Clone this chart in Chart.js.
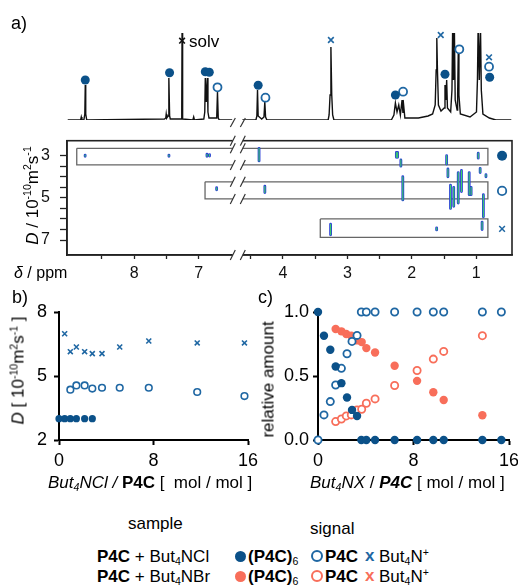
<!DOCTYPE html>
<html>
<head>
<meta charset="utf-8">
<script src="https://cdn.jsdelivr.net/npm/chart.js@4.4.1/dist/chart.umd.min.js"></script>
<style>
  body { margin: 0; width: 518px; height: 585px; position: relative; overflow: hidden; background: #fff;
         font-family: "Liberation Sans", Arial, sans-serif; color: #000; }
  canvas { position: absolute; }
  .t { position: absolute; white-space: nowrap; line-height: 1; z-index: 5; }
  .rot { transform: rotate(-90deg); transform-origin: 50% 50%; text-align: center; }
  sup, sub { font-size: 62%; line-height: 0; }
  sup { vertical-align: 0.6em; }
  sub { vertical-align: -0.25em; }
  .fc { position: absolute; width: 11px; height: 11px; border-radius: 50%; z-index: 5; }
  .oc { position: absolute; width: 8px; height: 8px; border-radius: 50%; border: 2px solid; z-index: 5; background: #fff; }
</style>
</head>
<body>
<canvas id="spec" width="518" height="110" style="left:0;top:20px"></canvas>
<canvas id="dosy" width="518" height="160" style="left:0;top:130px"></canvas>
<canvas id="diff" width="275" height="190" style="left:0;top:290px"></canvas>
<canvas id="rel" width="260" height="190" style="left:258px;top:290px"></canvas>

<div class="t" style="left:11px;top:14px;font-size:18px">a)</div>
<div class="t" style="left:189px;top:33px;font-size:17px">solv</div>
<div class="t rot" style="left:-38px;top:187px;width:140px;font-size:17px"><i>D</i> / 10<sup>-10</sup>m<sup>2</sup>s<sup>-1</sup></div>
<div class="t" style="left:14px;top:265px;font-size:16px"><i>δ</i> / ppm</div>

<div class="t" style="left:12px;top:288px;font-size:18px">b)</div>
<div class="t" style="left:258px;top:288px;font-size:18px">c)</div>
<div class="t rot" style="left:-52px;top:362px;width:140px;font-size:17px"><i>D</i> [ 10<sup>-10</sup>m<sup>2</sup>s<sup>-1</sup> ]</div>
<div class="t rot" style="left:203px;top:371px;width:130px;font-size:17px">relative amount</div>
<div class="t" style="left:48px;top:474px;font-size:17px"><i>But<sub>4</sub>NCl / </i><b>P4C</b> [&nbsp; mol / mol ]</div>
<div class="t" style="left:310px;top:474px;font-size:17px"><i>But<sub>4</sub>NX</i> / <b><i>P4C</i></b> [ mol / mol ]</div>

<div class="t" style="left:128px;top:515px;font-size:17px">sample</div>
<div class="t" style="left:310px;top:520px;font-size:17px">signal</div>

<div class="t" style="left:97px;top:548px;font-size:17px"><b>P4C</b> + But<sub>4</sub>NCl</div>
<div class="fc" style="left:235px;top:551px;background:#0b5189"></div>
<div class="t" style="left:248px;top:548px;font-size:17px"><b>(P4C)</b><sub>6</sub></div>
<div class="oc" style="left:311px;top:550px;border-color:#1f67a3"></div>
<div class="t" style="left:325px;top:548px;font-size:17px"><b>P4C</b></div>
<div class="t" style="left:365px;top:547px;font-size:17px;color:#1f67a3"><b>x</b></div>
<div class="t" style="left:379px;top:548px;font-size:17px">But<sub>4</sub>N<sup>+</sup></div>

<div class="t" style="left:97px;top:568px;font-size:17px"><b>P4C</b> + But<sub>4</sub>NBr</div>
<div class="fc" style="left:235px;top:571px;background:#f86e5a"></div>
<div class="t" style="left:248px;top:568px;font-size:17px"><b>(P4C)</b><sub>6</sub></div>
<div class="oc" style="left:311px;top:570px;border-color:#f86e5a"></div>
<div class="t" style="left:325px;top:568px;font-size:17px"><b>P4C</b></div>
<div class="t" style="left:365px;top:567px;font-size:17px;color:#f86e5a"><b>x</b></div>
<div class="t" style="left:379px;top:568px;font-size:17px">But<sub>4</sub>N<sup>+</sup></div>

<script>
const FONT = '"Liberation Sans", Arial, sans-serif';
const BLUE = '#0b5189';
const BLUE_LIGHT = '#1f67a3';
const RED = '#f86e5a';

// ppm axis with a break: the 6.4-9 ppm part is shifted to sit next to the 0.4-4.7 part
const LEFT_SHIFT = 1.6923;
const U_MIN = 0.446, U_MAX = 7.349, U_BREAK = 4.70;
function toU(ppm) { return ppm > 5 ? ppm - LEFT_SHIFT : ppm; }

// a) 1H spectrum (null = axis break)
const specPpm = [9.03, 8.83, 8.82, 8.81, 8.78, 8.765, 8.758, 8.751, 8.735, 7.53, 7.51, 7.503, 7.495, 7.475, 7.462, 7.45, 7.44,
  7.27, 7.262, 7.257, 7.252, 7.245, 7.09, 7.077, 7.065, 6.92, 6.905, 6.897, 6.882, 6.866, 6.856, 6.84, 6.72, 6.708, 6.696, 6.68, 6.48,
  null,
  4.63, 4.42, 4.405, 4.395, 4.385, 4.33, 4.295, 4.282, 4.27, 4.25, 3.30, 3.285, 3.27, 3.257, 3.244, 3.23, 3.21,
  2.32, 2.28, 2.257, 2.232, 2.205, 2.18, 2.154, 2.14, 2.128, 2.11, 2.05, 1.90, 1.75, 1.68, 1.64, 1.625, 1.615, 1.605, 1.59,
  1.55, 1.50, 1.488, 1.475, 1.462, 1.45, 1.40, 1.38, 1.369, 1.356, 1.343, 1.33, 1.30, 1.292, 1.282, 1.272, 1.25,
  1.10, 1.00, 0.985, 0.974, 0.956, 0.938, 0.925, 0.90, 0.80, 0.70, 0.46];
const specInt = [0, 0, 3, 0, 0, 6, 35, 6, 0, 1, 2, 6, 2, 4, 42, 4, 1,
  1, 10, 95, 10, 1, 0, 3, 0, 1, 8, 42, 18, 42, 8, 2, 2, 28, 2, 0, 0,
  null,
  0, 0, 4, 30, 4, 1, 3, 18, 3, 0, 0, 5, 25, 73, 25, 5, 0,
  0, 5, 17, 8, 15, 5, 20, 7, 14, 2, 2, 2, 4, 6, 15, 50, 82, 50, 15,
  9, 12, 35, 20, 40, 12, 8, 30, 95, 40, 95, 20, 10, 25, 68, 25, 6,
  3, 8, 40, 95, 40, 95, 30, 6, 2, 0, 0];

// signal assignment markers above the spectrum
const fillPpm = [8.758, 7.451, 6.897, 6.835, 4.385, 2.257, 1.488, 0.795];
const fillH   = [40, 47.3, 48.3, 47.7, 34.7, 25, 45.7, 42.7];
const openPpm = [6.708, 4.272, 2.138, 1.266, 0.805];
const openH   = [32.7, 22.3, 28.3, 70.7, 53.3];
const crossPpm = [3.257, 1.554, 0.805];
const crossH   = [80, 85, 62.7];
const solvPpm = [7.257];
const solvH   = [79.3];

// DOSY cross peaks: ppm and D range (10^-10 m2/s)
const peakPpm  = [8.76, 7.46, 6.87, 6.83, 6.72, 4.37, 4.28, 3.26, 2.24, 2.22, 2.17, 2.14, 1.615, 1.46, 1.44, 1.40, 1.35, 1.28, 1.23, 1.11, 1.08, 0.97, 0.94, 0.85, 0.89, 0.91];
const peakDtop = [2.97, 2.97, 2.93, 2.95, 4.52, 2.65, 4.45, 6.25, 2.85, 2.85, 3.20, 4.00, 6.42, 3.00, 3.63, 4.40, 4.50, 3.80, 3.70, 3.80, 4.50, 2.88, 3.60, 3.90, 4.85, 6.15];
const peakDbot = [3.03, 3.03, 3.03, 3.02, 4.62, 3.25, 4.75, 6.75, 3.08, 3.08, 3.50, 5.10, 6.52, 3.40, 4.00, 5.50, 5.40, 5.25, 4.70, 4.85, 4.85, 3.12, 3.80, 4.00, 5.90, 6.50];
// grouping boxes
const boxLeftPpm  = [8.89, 6.90, 3.42];
const boxRightPpm = [0.82, 0.82, 0.82];
const boxTopD = [2.65, 4.24, 6.00];
const boxBotD = [3.44, 5.05, 6.87];
// species markers at the right
const speciesPpm = 0.6;
const speciesD = [3.0, 4.67, 6.47];

const dosyTickPpm = [8.5, 8, 7.5, 7, 4.5, 4, 3.5, 3, 2.5, 2, 1.5, 1];
const dosyTickLabel = ['', '8', '', '7', '', '4', '', '3', '', '2', '', '1'];
const dosyTickD = [3, 3.5, 4, 4.5, 5, 5.5, 6, 6.5, 7];
const dosyTickDLabel = ['3', '', '', '', '5', '', '', '', '7'];

// b) D vs But4NCl / P4C
const bFillX = [0, 0.48, 0.96, 1.47, 2.17, 2.82];
const bFillD = [3.0, 3.0, 3.0, 3.0, 3.0, 3.0];
const bOpenX = [0.96, 1.47, 2.17, 2.82, 3.64, 5.14, 7.6, 11.7, 15.7];
const bOpenD = [4.36, 4.56, 4.56, 4.41, 4.45, 4.45, 4.45, 4.25, 4.06];
const bCrossX = [0.48, 0.96, 1.47, 2.17, 2.82, 3.64, 5.14, 7.6, 11.7, 15.7];
const bCrossD = [6.98, 6.14, 6.36, 6.14, 6.05, 6.05, 6.36, 6.64, 6.55, 6.55];

// c) relative amount vs But4NX / P4C
const cClX = [0, 0.5, 1.03, 1.48, 1.96, 2.43, 2.85, 3.27, 3.63, 4.05, 4.78, 6.42, 8.30, 9.66, 10.53, 13.77, 15.36];
const cClHex  = [1.0, 0.815, 0.705, 0.574, 0.444, 0.332, 0.235, 0.188, 0, 0, 0, 0, 0, 0, 0, 0, 0];
const cClFree = [0, 0.196, 0.30, 0.43, 0.56, 0.674, 0.77, 0.817, 1, 1, 1, 1, 1, 1, 1, 1, 1];
const cBrX = [1.48, 1.96, 2.37, 2.79, 3.27, 3.66, 4.05, 4.78, 6.42, 8.30, 9.66, 10.53, 13.77];
const cBrHex  = [0.867, 0.849, 0.828, 0.815, 0.778, 0.765, 0.718, 0.684, 0.580, 0.462, 0.373, 0.313, 0.193];
const cBrFree = [0.144, 0.164, 0.188, 0.196, 0.235, 0.240, 0.287, 0.321, 0.426, 0.543, 0.632, 0.692, 0.815];

const pts = (xs, ys, fx = v => v) => xs.map((x, i) => ({ x: fx(x), y: ys[i] }));

function breakMarks(ctx, xb, ys, h) {
  ctx.save();
  ys.forEach(y => {
    ctx.fillStyle = '#fff';
    ctx.fillRect(xb - 5, y - 2.5, 10, 5);
    ctx.strokeStyle = '#333';
    ctx.lineWidth = 1.2;
    [-5, 5].forEach(dx => {
      ctx.beginPath();
      ctx.moveTo(xb + dx - 2.5, y + h);
      ctx.lineTo(xb + dx + 2.5, y - h);
      ctx.stroke();
    });
  });
  ctx.restore();
}

// ---------- a) spectrum ----------
const specData = specPpm.map((p, i) => p === null ? { x: U_BREAK, y: null } : { x: toU(p), y: specInt[i] });

new Chart(document.getElementById('spec'), {
  type: 'scatter',
  data: {
    datasets: [
      { data: pts(fillPpm, fillH, toU), pointRadius: 4.5, pointBackgroundColor: BLUE, pointBorderWidth: 0, order: 0, clip: false },
      { data: pts(openPpm, openH, toU), pointRadius: 4, pointBackgroundColor: '#fff', pointBorderColor: BLUE_LIGHT, pointBorderWidth: 1.8, order: 0, clip: false },
      { data: pts(crossPpm, crossH, toU), pointStyle: 'crossRot', pointRadius: 4, pointBorderColor: BLUE_LIGHT, pointBorderWidth: 1.6, order: 0, clip: false },
      { data: pts(solvPpm, solvH, toU), pointStyle: 'crossRot', pointRadius: 4, pointBorderColor: '#111', pointBorderWidth: 1.6, order: 0, clip: false },
      { data: specData, showLine: true, spanGaps: false, pointRadius: 0, borderColor: '#111', borderWidth: 1.4, order: 10 }
    ]
  },
  options: {
    responsive: false, animation: false, events: [],
    layout: { padding: { left: 67, right: 2, top: 13, bottom: 10 } },
    plugins: { legend: { display: false }, tooltip: { enabled: false } },
    scales: {
      x: { display: false, min: U_MIN, max: U_MAX, reverse: true },
      y: { display: false, min: 0, max: 87 }
    }
  },
  plugins: [{
    id: 'specBreak',
    afterDraw(chart) {
      const xb = chart.scales.x.getPixelForValue(U_BREAK);
      const ctx = chart.ctx;
      ctx.save();
      ctx.strokeStyle = '#333';
      ctx.lineWidth = 1.2;
      [-5, 5].forEach(dx => {
        ctx.beginPath();
        ctx.moveTo(xb + dx - 2.5, chart.chartArea.bottom + 7);
        ctx.lineTo(xb + dx + 2.5, chart.chartArea.bottom - 2);
        ctx.stroke();
      });
      ctx.restore();
    }
  }]
});

// ---------- a) DOSY map ----------
const streaks = [];
peakPpm.forEach((p, i) => {
  streaks.push({ x: toU(p), y: peakDtop[i] }, { x: toU(p), y: peakDbot[i] }, { x: toU(p), y: null });
});
const boxes = [];
boxLeftPpm.forEach((l, i) => {
  const L = toU(l), R = toU(boxRightPpm[i]);
  boxes.push({ x: L, y: boxTopD[i] }, { x: R, y: boxTopD[i] }, { x: R, y: boxBotD[i] },
             { x: L, y: boxBotD[i] }, { x: L, y: boxTopD[i] }, { x: L, y: null });
});

new Chart(document.getElementById('dosy'), {
  type: 'scatter',
  data: {
    datasets: [
      { data: [{ x: speciesPpm, y: speciesD[0] }], pointRadius: 5, pointBackgroundColor: BLUE, pointBorderWidth: 0, order: 0 },
      { data: [{ x: speciesPpm, y: speciesD[1] }], pointRadius: 4.2, pointBackgroundColor: '#fff', pointBorderColor: BLUE_LIGHT, pointBorderWidth: 1.8, order: 0 },
      { data: [{ x: speciesPpm, y: speciesD[2] }], pointStyle: 'crossRot', pointRadius: 4, pointBorderColor: BLUE_LIGHT, pointBorderWidth: 1.5, order: 0 },
      { data: streaks, showLine: true, spanGaps: false, pointRadius: 0, borderColor: '#3ccf6a', borderWidth: 1.1, borderCapStyle: 'round', order: 1 },
      { data: streaks, showLine: true, spanGaps: false, pointRadius: 0, borderColor: '#2a3fd6', borderWidth: 2.8, borderCapStyle: 'round', order: 2 },
      { data: boxes, showLine: true, spanGaps: false, pointRadius: 0, borderColor: '#666', borderWidth: 1.3, order: 3 }
    ]
  },
  options: {
    responsive: false, animation: false, events: [],
    layout: { padding: { left: 0, right: 2, top: 10.7, bottom: 0 } },
    plugins: { legend: { display: false }, tooltip: { enabled: false } },
    scales: {
      x: {
        min: U_MIN, max: U_MAX, reverse: true,
        afterBuildTicks: s => { s.ticks = dosyTickPpm.map(p => ({ value: toU(p) })); },
        afterFit: s => { s.height = 35; s.paddingLeft = 0; s.paddingRight = 0; },
        ticks: { autoSkip: false, maxRotation: 0, padding: 5, color: '#111', font: { family: FONT, size: 16 },
                 callback: (v, i) => dosyTickLabel[i] },
        grid: { drawOnChartArea: false, tickLength: 4, tickColor: '#222', tickWidth: 1.3 },
        border: { color: '#222', width: 1.6 }
      },
      y: {
        min: 2.29, max: 7.71, reverse: true,
        afterBuildTicks: s => { s.ticks = dosyTickD.map(d => ({ value: d })); },
        afterFit: s => { s.width = 67; s.paddingTop = 0; s.paddingBottom = 0; },
        ticks: { autoSkip: false, padding: 10, color: '#111', font: { family: FONT, size: 16 },
                 callback: (v, i) => dosyTickDLabel[i] },
        grid: { drawOnChartArea: false, tickLength: 7, tickColor: '#222', tickWidth: 1.3 },
        border: { color: '#222', width: 1.6 }
      }
    }
  },
  plugins: [{
    id: 'dosyFrame',
    afterDraw(chart) {
      const { ctx, chartArea: a, scales } = chart;
      ctx.save();
      ctx.strokeStyle = '#222';
      ctx.lineWidth = 1.6;
      ctx.strokeRect(a.left, a.top, a.right - a.left, a.bottom - a.top);
      ctx.restore();
      const xb = scales.x.getPixelForValue(U_BREAK);
      const ys = [a.top, a.bottom, boxTopD[0], boxBotD[0], boxTopD[1], boxBotD[1]]
        .map((v, i) => i < 2 ? v : scales.y.getPixelForValue(v));
      breakMarks(ctx, xb, ys, 5);
    }
  }]
});

// ---------- shared axis style for b) and c) ----------
function axisStyle(extra) {
  return Object.assign({
    ticks: { color: '#000', font: { family: FONT, size: 18 } },
    grid: { drawOnChartArea: false, tickLength: 5, tickColor: '#000', tickWidth: 2 },
    border: { color: '#000', width: 2 }
  }, extra);
}

// ---------- b) ----------
new Chart(document.getElementById('diff'), {
  type: 'scatter',
  data: {
    datasets: [
      { data: pts(bCrossX, bCrossD), pointStyle: 'crossRot', pointRadius: 3.5, pointBorderColor: BLUE_LIGHT, pointBorderWidth: 1.6, clip: false },
      { data: pts(bOpenX, bOpenD), pointRadius: 3.3, pointBackgroundColor: '#fff', pointBorderColor: BLUE_LIGHT, pointBorderWidth: 1.6, clip: false },
      { data: pts(bFillX, bFillD), pointRadius: 3.6, pointBackgroundColor: BLUE, pointBorderWidth: 0, clip: false }
    ]
  },
  options: {
    responsive: false, animation: false, events: [],
    layout: { padding: { left: 0, right: 27, top: 22, bottom: 0 } },
    plugins: { legend: { display: false }, tooltip: { enabled: false } },
    scales: {
      x: axisStyle({ min: 0, max: 16,
        afterFit: s => { s.height = 40; s.paddingLeft = 0; s.paddingRight = 0; },
        ticks: { stepSize: 8, padding: 5, maxRotation: 0, color: '#000', font: { family: FONT, size: 18 } } }),
      y: axisStyle({ min: 2, max: 8,
        afterFit: s => { s.width = 59; s.paddingTop = 0; s.paddingBottom = 0; },
        ticks: { stepSize: 3, padding: 7, color: '#000', font: { family: FONT, size: 18 } } })
    }
  }
});

// ---------- c) ----------
new Chart(document.getElementById('rel'), {
  type: 'scatter',
  data: {
    datasets: [
      { data: pts(cClX, cClHex), pointRadius: 4.2, pointBackgroundColor: BLUE, pointBorderWidth: 0, clip: false },
      { data: pts(cClX, cClFree), pointRadius: 3.6, pointBackgroundColor: '#fff', pointBorderColor: BLUE_LIGHT, pointBorderWidth: 1.8, clip: false },
      { data: pts(cBrX, cBrHex), pointRadius: 4.2, pointBackgroundColor: RED, pointBorderWidth: 0, clip: false },
      { data: pts(cBrX, cBrFree), pointRadius: 3.6, pointBackgroundColor: '#fff', pointBorderColor: RED, pointBorderWidth: 1.8, clip: false }
    ]
  },
  options: {
    responsive: false, animation: false, events: [],
    layout: { padding: { left: 0, right: 9, top: 22, bottom: 0 } },
    plugins: { legend: { display: false }, tooltip: { enabled: false } },
    scales: {
      x: axisStyle({ min: 0, max: 16,
        afterFit: s => { s.height = 40; s.paddingLeft = 0; s.paddingRight = 0; },
        ticks: { stepSize: 8, padding: 5, maxRotation: 0, color: '#000', font: { family: FONT, size: 18 } } }),
      y: axisStyle({ min: 0, max: 1,
        afterFit: s => { s.width = 60; s.paddingTop = 0; s.paddingBottom = 0; },
        ticks: { stepSize: 0.5, padding: 4, color: '#000', font: { family: FONT, size: 18 },
                 callback: v => v.toFixed(1) } })
    }
  }
});
</script>
</body>
</html>
